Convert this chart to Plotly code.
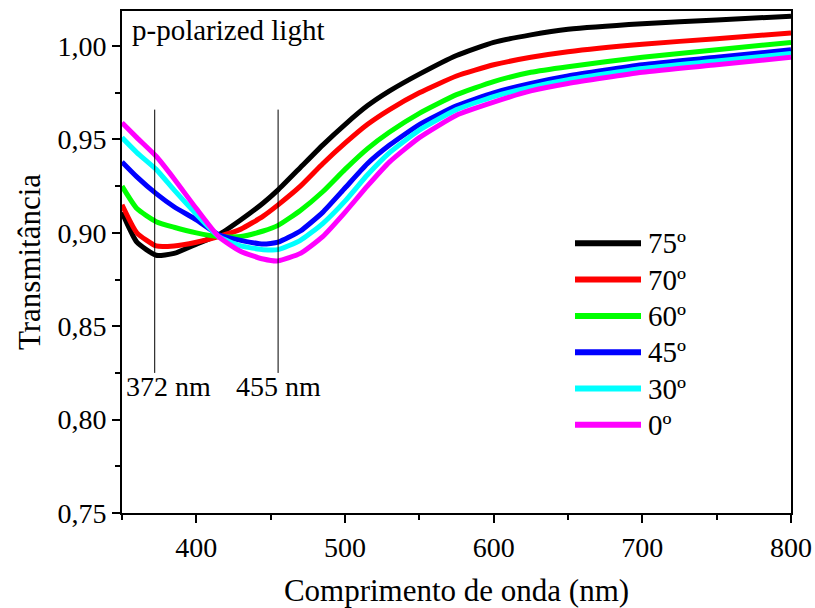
import plotly.graph_objects as go

wavelength = [350, 360, 373, 385, 400, 415, 430, 445, 455, 470, 485, 500, 515, 530, 550, 575, 600, 625, 650, 700, 750, 800]

t75 = [0.911, 0.895, 0.888, 0.889, 0.894, 0.899, 0.907, 0.916, 0.923, 0.935, 0.947, 0.958, 0.968, 0.976, 0.985, 0.995, 1.002, 1.006, 1.009, 1.012, 1.014, 1.016]
t70 = [0.915, 0.900, 0.893, 0.893, 0.895, 0.898, 0.902, 0.909, 0.915, 0.925, 0.937, 0.948, 0.958, 0.966, 0.975, 0.984, 0.990, 0.994, 0.997, 1.001, 1.004, 1.007]
t60 = [0.925, 0.913, 0.906, 0.903, 0.900, 0.898, 0.898, 0.901, 0.904, 0.912, 0.922, 0.934, 0.945, 0.954, 0.964, 0.974, 0.981, 0.986, 0.989, 0.994, 0.998, 1.002]
t45 = [0.938, 0.930, 0.921, 0.914, 0.907, 0.899, 0.896, 0.894, 0.895, 0.901, 0.911, 0.924, 0.937, 0.947, 0.958, 0.968, 0.975, 0.980, 0.984, 0.990, 0.994, 0.998]
t30 = [0.951, 0.943, 0.934, 0.923, 0.910, 0.898, 0.893, 0.891, 0.891, 0.896, 0.905, 0.917, 0.931, 0.943, 0.955, 0.966, 0.973, 0.978, 0.982, 0.988, 0.992, 0.996]
t0 = [0.959, 0.951, 0.941, 0.929, 0.913, 0.898, 0.890, 0.886, 0.885, 0.889, 0.898, 0.911, 0.925, 0.938, 0.951, 0.963, 0.970, 0.976, 0.980, 0.986, 0.990, 0.994]

series_names = ["75º", "70º", "60º", "45º", "30º", "0º"]
series_values = [t75, t70, t60, t45, t30, t0]
series_colors = ["#000000", "#ff0000", "#00ff00", "#0000ff", "#00ffff", "#ff00ff"]

marker_wl = [372, 455]
marker_labels = ["372 nm", "455 nm"]

x_ticks = [400, 500, 600, 700, 800]
y_ticks = [0.75, 0.80, 0.85, 0.90, 0.95, 1.00]

FONT = "Liberation Serif"

fig = go.Figure()
for name, vals, col in zip(series_names, series_values, series_colors):
    fig.add_trace(go.Scatter(x=wavelength, y=vals, mode="lines", name=name,
                             line=dict(color=col, width=5, shape="spline", smoothing=0.5),
                             showlegend=False))

# marker lines
for wl in marker_wl:
    fig.add_shape(type="line", xref="x", yref="y", x0=wl, x1=wl, y0=0.825, y1=0.966,
                  line=dict(color="black", width=1))

fig.add_annotation(x=350, y=0.8176, xref="x", yref="y", text=marker_labels[0], showarrow=False,
                   xanchor="left", xshift=2, font=dict(size=28, family=FONT, color="black"))
fig.add_annotation(x=marker_wl[1], y=0.8176, xref="x", yref="y", text=marker_labels[1], showarrow=False,
                   xanchor="center", font=dict(size=28, family=FONT, color="black"))

# custom legend
L, T, W, H = 122, 11, 669, 502
def px(x):
    return (x - L) / W
def py(y):
    return (T + H - y) / H
for i, (name, col) in enumerate(zip(series_names, series_colors)):
    yy = 243.3 + i * 36.3
    fig.add_shape(type="line", xref="paper", yref="paper", x0=px(575), x1=px(641),
                  y0=py(yy), y1=py(yy), line=dict(color=col, width=6))
    fig.add_annotation(xref="paper", yref="paper", x=px(646), y=py(yy), text=name, showarrow=False,
                       xanchor="left", yanchor="middle", font=dict(size=29, family=FONT, color="black"))

fig.add_annotation(xref="paper", yref="paper", x=px(130), y=py(30), text="p-polarized light",
                   showarrow=False, xanchor="left", yanchor="middle",
                   font=dict(size=29, family=FONT, color="black"))

axis_common = dict(showline=True, linecolor="black", linewidth=2, mirror=True,
                   ticks="outside", ticklen=8, tickwidth=1.5, tickcolor="black",
                   showgrid=False, zeroline=False, automargin=False,
                   tickfont=dict(size=28, family=FONT, color="black"))

fig.update_xaxes(range=[350, 800], tickvals=x_ticks,
                 minor=dict(dtick=50, tick0=350, ticks="outside", ticklen=5, tickwidth=1.5, tickcolor="black"),
                 title=dict(text="Comprimento de onda (nm)", font=dict(size=31, family=FONT, color="black"), standoff=18),
                 **axis_common)
fig.update_yaxes(range=[0.75, 1.0188], tickvals=y_ticks, tickformat=".2f",
                 minor=dict(dtick=0.025, tick0=0.75, ticks="outside", ticklen=5, tickwidth=1.5, tickcolor="black"),
                 title=dict(text="Transmitância", font=dict(size=31, family=FONT, color="black"), standoff=8),
                 **axis_common)

fig.update_layout(width=815, height=608, margin=dict(l=L, r=815 - L - W, t=T, b=608 - T - H),
                  plot_bgcolor="white", paper_bgcolor="white", separators=",.",
                  font=dict(family=FONT, color="black"))

fig.write_html("out.html")
